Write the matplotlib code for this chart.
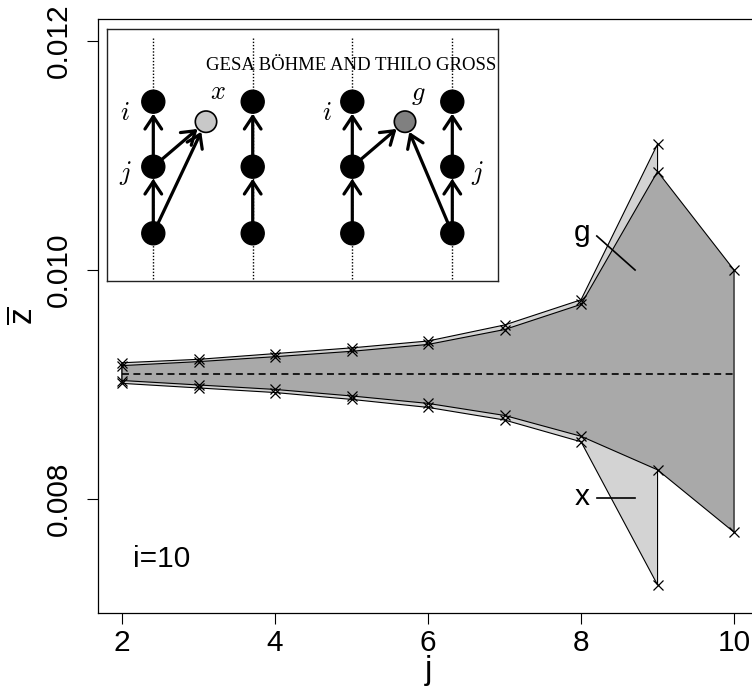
import numpy as np
import matplotlib.pyplot as plt
from matplotlib.patches import Circle

plt.rcParams['font.family'] = ['Liberation Sans', 'DejaVu Sans']
plt.rcParams['mathtext.fontset'] = 'custom'
plt.rcParams['mathtext.rm'] = 'Liberation Sans'
plt.rcParams['lines.scale_dashes'] = False

# band of x (light) and band of g (dark)
j_x = [2, 3, 4, 5, 6, 7, 8, 9]
x_upper = [0.00919, 0.00922, 0.00927, 0.00932, 0.00938, 0.00952, 0.00974, 0.01110]
x_lower = [0.00901, 0.00897, 0.00893, 0.00887, 0.00880, 0.00869, 0.00850, 0.00725]

j_g = [2, 3, 4, 5, 6, 7, 8, 9, 10]
g_upper = [0.009165, 0.00920, 0.009243, 0.00929, 0.00935, 0.00948, 0.00970, 0.01086, 0.01000]
g_lower = [0.009035, 0.008996, 0.008957, 0.00890, 0.008835, 0.00873, 0.008548, 0.008255, 0.00771]

z_mean = 0.00909
xticks = [2, 4, 6, 8, 10]
yticks = [0.008, 0.010, 0.012]
ytick_labels = ['0.008', '0.010', '0.012']

fig = plt.figure(figsize=(7.52, 6.96), dpi=100)
ax = fig.add_axes([0.1297, 0.1198, 0.879, 0.8529])
ax.set_xlim(1.68, 10.32)
ax.set_ylim(0.007008, 0.012192)

ax.fill(np.r_[j_x, j_x[::-1]], np.r_[x_upper, x_lower[::-1]],
        facecolor='#d3d3d3', edgecolor='black', lw=0.8, zorder=1)
ax.fill(np.r_[j_g, j_g[::-1]], np.r_[g_upper, g_lower[::-1]],
        facecolor='#a9a9a9', edgecolor='black', lw=0.8, zorder=2)
ax.plot([j_g[0], j_g[-1]], [z_mean, z_mean], color='black', lw=1.2,
        dashes=(5, 3.2), zorder=3)
for jj, up, lo in [(j_x, x_upper, x_lower), (j_g, g_upper, g_lower)]:
    ax.plot(jj, up, 'kx', ms=7, mew=0.9, ls='none', zorder=4)
    ax.plot(jj, lo, 'kx', ms=7, mew=0.9, ls='none', zorder=4)

# labels inside the plot
ax.text(8.009, 0.010253, 'g', fontsize=21.5, ha='center', va='baseline')
ax.plot([8.206, 8.706], [0.010297, 0.0100], color='black', lw=1.2)
ax.text(8.009, 0.007948, 'x', fontsize=21.5, ha='center', va='baseline')
ax.plot([8.206, 8.706], [0.008006, 0.008006], color='black', lw=1.2)
ax.text(2.148, 0.007409, 'i=10', fontsize=21.5, ha='left', va='baseline')

ax.set_xticks(xticks)
ax.set_yticks(yticks)
ax.set_yticklabels(ytick_labels, rotation=90, va='center')
ax.tick_params(direction='out', length=8, width=0.8, labelsize=21.5)
ax.tick_params(axis='x', pad=4)
ax.tick_params(axis='y', pad=10)
for s in ax.spines.values():
    s.set_linewidth(0.9)
ax.set_xlabel('j', fontsize=24, labelpad=-2)
ax.set_ylabel(r'$\overline{\mathrm{z}}$', fontsize=24, labelpad=4)

# inset diagram (pixel coordinates of the inset box)
ins = fig.add_axes([106.7 / 752, 1 - 281 / 696, (498 - 106.7) / 752, (281 - 29.3) / 696])
ins.set_xlim(0, 391.3)
ins.set_ylim(251.7, 0)
ins.set_xticks([])
ins.set_yticks([])
for s in ins.spines.values():
    s.set_linewidth(1.0)
    s.set_color('#222222')

cols = [46.6, 146.0, 245.6, 345.6]
rows = [72.4, 137.4, 204.0]
r_node = 11.5
x_node = (99.3, 92.4)
g_node = (298.3, 92.4)

for cx in cols:
    ins.plot([cx, cx], [9, 251.7], color='black', lw=1.0, ls=(0, (1, 1.3)), zorder=1)

def arrow(start, end, shrink=8.6):
    ins.annotate('', xy=end, xytext=start,
                 arrowprops=dict(arrowstyle='->,head_length=0.45,head_width=0.3',
                                 lw=2.3, color='black', shrinkA=0, shrinkB=shrink,
                                 mutation_scale=20),
                 zorder=2)

for cx in cols:
    arrow((cx, rows[2]), (cx, rows[1]))
    arrow((cx, rows[1]), (cx, rows[0]))
arrow((cols[0], rows[2]), x_node, 8.0)
arrow((cols[0], rows[1]), x_node, 8.0)
arrow((cols[2], rows[1]), g_node, 8.0)
arrow((cols[3], rows[2]), g_node, 8.0)

for cx in cols:
    for cy in rows:
        ins.add_patch(Circle((cx, cy), r_node, facecolor='black', edgecolor='black', zorder=3))
ins.add_patch(Circle(x_node, 10.7, facecolor='#c8c8c8', edgecolor='black', lw=1.2, zorder=3))
ins.add_patch(Circle(g_node, 10.7, facecolor='#808080', edgecolor='black', lw=1.2, zorder=3))

for (tx, ty, s) in [(18.3, 83.7, 'i'), (18.3, 143.7, 'j'), (111.3, 63.0, 'x'),
                    (220.3, 83.7, 'i'), (311.3, 65.7, 'g'), (370.3, 143.7, 'j')]:
    ins.text(tx, ty, '$%s$' % s, math_fontfamily='cm', fontsize=19,
             ha='center', va='center', zorder=4)

ins.text(99.0, 36, 'GESA BÖHME AND THILO GROSS',
         family=['Liberation Serif', 'DejaVu Serif'], fontsize=13.5,
         ha='left', va='center', clip_on=False, zorder=5)

fig.savefig('out.png', dpi=100)
